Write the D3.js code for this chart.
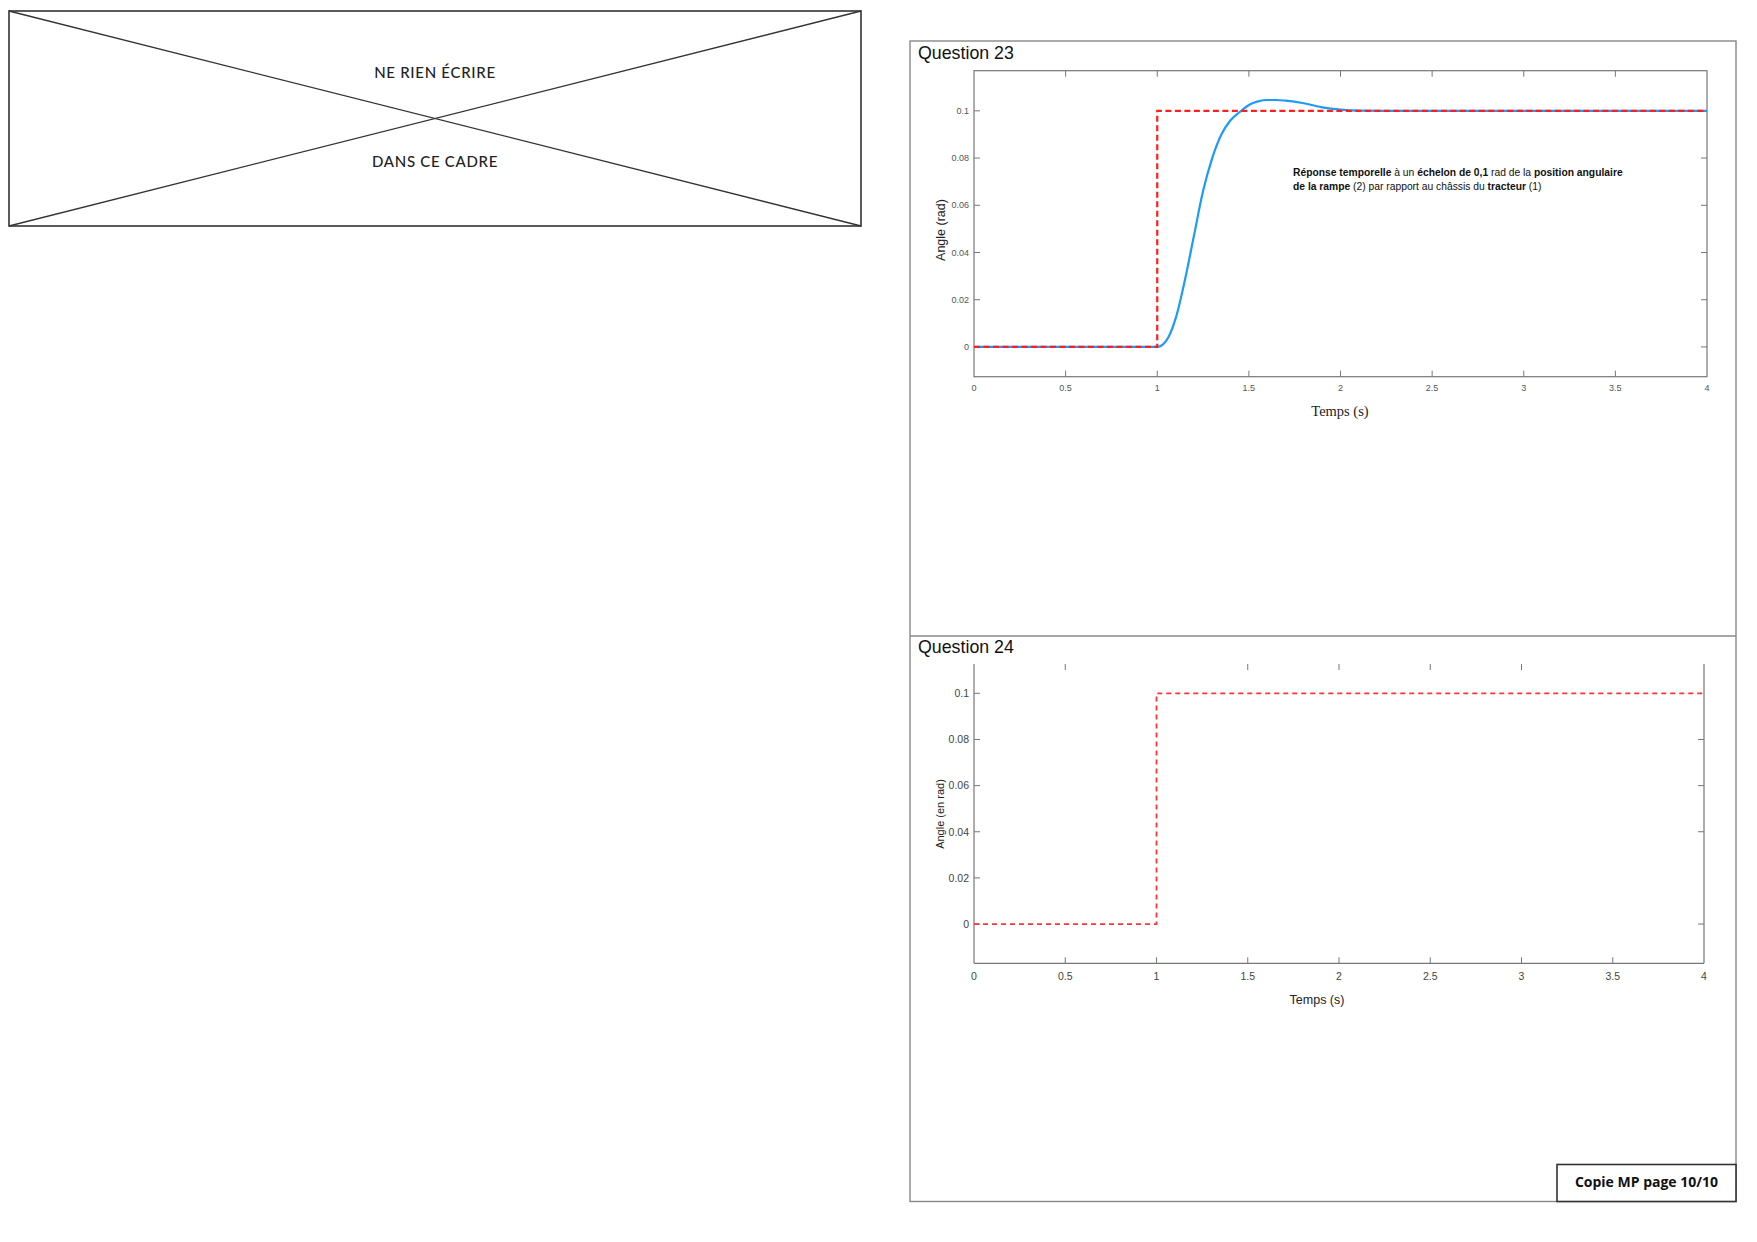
<!DOCTYPE html>
<html><head><meta charset="utf-8">
<script src="https://cdn.jsdelivr.net/npm/d3@7"></script>
<style>
html,body{margin:0;padding:0;background:#fff;}
svg{display:block;}
</style></head>
<body>
<svg id="page" width="1757" height="1242"></svg>
<script>
// ---------- DATA ----------
const q23Title = "Question 23";
const q24Title = "Question 24";
const xTicks = [0, 0.5, 1, 1.5, 2, 2.5, 3, 3.5, 4];
const xTickLabels = ["0", "0.5", "1", "1.5", "2", "2.5", "3", "3.5", "4"];
const yTicks = [0, 0.02, 0.04, 0.06, 0.08, 0.1];
const yTickLabels = ["0", "0.02", "0.04", "0.06", "0.08", "0.1"];
// consigne : échelon de 0,1 rad à t = 1 s
const stepT = [0, 1, 1, 4];
const stepV = [0, 0, 0.1, 0.1];
// réponse
const respT = [0, 1, 1.03, 1.06, 1.1, 1.15, 1.2, 1.25, 1.3, 1.35, 1.4, 1.45, 1.5, 1.55, 1.6, 1.65, 1.7, 1.8, 1.9, 2.0, 2.1, 2.3, 2.6, 3, 3.5, 4];
const respV = [0, 0, 0.001, 0.004, 0.012, 0.028, 0.047, 0.066, 0.080, 0.090, 0.096, 0.0995, 0.1025, 0.104, 0.1046, 0.1046, 0.1043, 0.1032, 0.1015, 0.1005, 0.1001, 0.1, 0.1, 0.1, 0.1, 0.1];
// Q24 : graduations partielles visibles
const q24TopTicks = [0.5, 1.5, 2, 2.5, 3];
const q24RightTicks = [0, 0.04, 0.06, 0.08];
const annotLine1 = [["Réponse temporelle ", true], ["à un ", false], ["échelon de 0,1 ", true], ["rad de la ", false], ["position angulaire", true]];
const annotLine2 = [["de la rampe ", true], ["(2) par rapport au châssis du ", false], ["tracteur ", true], ["(1)", false]];

const svg = d3.select("#page");

// ---------- Cadre "NE RIEN ÉCRIRE" ----------
const bx0 = 9, by0 = 11, bx1 = 861, by1 = 226;
const g0 = svg.append("g");
g0.append("rect").attr("x", bx0).attr("y", by0).attr("width", bx1 - bx0).attr("height", by1 - by0)
  .attr("fill", "none").attr("stroke", "#333").attr("stroke-width", 1.6);
g0.append("line").attr("x1", bx0).attr("y1", by0).attr("x2", bx1).attr("y2", by1).attr("stroke", "#333").attr("stroke-width", 1.3);
g0.append("line").attr("x1", bx0).attr("y1", by1).attr("x2", bx1).attr("y2", by0).attr("stroke", "#333").attr("stroke-width", 1.3);
g0.append("text").attr("x", 435).attr("y", 78).attr("text-anchor", "middle")
  .attr("font-family", "Lato, 'Open Sans', sans-serif").attr("font-size", 15).attr("letter-spacing", 0.7).attr("font-weight", 500).attr("fill", "#222").text("NE RIEN ÉCRIRE");
g0.append("text").attr("x", 435).attr("y", 167).attr("text-anchor", "middle")
  .attr("font-family", "Lato, 'Open Sans', sans-serif").attr("font-size", 15).attr("letter-spacing", 0.7).attr("font-weight", 500).attr("fill", "#222").text("DANS CE CADRE");

// ---------- Cadre extérieur droite ----------
const fx0 = 910, fy0 = 41, fx1 = 1736, fy1 = 1201.5;
svg.append("rect").attr("x", fx0).attr("y", fy0).attr("width", fx1 - fx0).attr("height", fy1 - fy0)
  .attr("fill", "none").attr("stroke", "#888").attr("stroke-width", 1.4);
svg.append("line").attr("x1", fx0).attr("x2", fx1).attr("y1", 636).attr("y2", 636).attr("stroke", "#888").attr("stroke-width", 1.4);

svg.append("text").attr("x", 918).attr("y", 59).attr("font-family", "'Liberation Sans', Arial, sans-serif")
  .attr("font-size", 17.8).attr("fill", "#111").text(q23Title);
svg.append("text").attr("x", 918).attr("y", 653).attr("font-family", "'Liberation Sans', Arial, sans-serif")
  .attr("font-size", 17.8).attr("fill", "#111").text(q24Title);

// ---------- Graphe Q23 ----------
{
  const x = d3.scaleLinear().domain([0, 4]).range([974, 1707]);
  const y = d3.scaleLinear().domain([-0.0126, 0.117]).range([376.7, 70.7]);
  const g = svg.append("g");
  const axCol = "#777";
  g.append("rect").attr("x", x(0)).attr("y", y(0.117)).attr("width", x(4) - x(0)).attr("height", y(-0.0126) - y(0.117))
    .attr("fill", "none").attr("stroke", axCol).attr("stroke-width", 1.2);
  const tl = 6;
  xTicks.slice(1, -1).forEach(t => {
    g.append("line").attr("x1", x(t)).attr("x2", x(t)).attr("y1", y(-0.0126)).attr("y2", y(-0.0126) - tl).attr("stroke", axCol);
    g.append("line").attr("x1", x(t)).attr("x2", x(t)).attr("y1", y(0.117)).attr("y2", y(0.117) + tl).attr("stroke", axCol);
  });
  yTicks.forEach(v => {
    g.append("line").attr("x1", x(0)).attr("x2", x(0) + tl).attr("y1", y(v)).attr("y2", y(v)).attr("stroke", axCol);
    g.append("line").attr("x1", x(4)).attr("x2", x(4) - tl).attr("y1", y(v)).attr("y2", y(v)).attr("stroke", axCol);
  });
  g.selectAll(".xl").data(xTicks).enter().append("text")
    .attr("x", d => x(d)).attr("y", 391).attr("text-anchor", "middle")
    .attr("font-family", "'Liberation Sans', Arial, sans-serif").attr("font-size", 9).attr("fill", "#555")
    .text((d, i) => xTickLabels[i]);
  g.selectAll(".yl").data(yTicks).enter().append("text")
    .attr("x", 969).attr("y", d => y(d) + 3).attr("text-anchor", "end")
    .attr("font-family", "'Liberation Sans', Arial, sans-serif").attr("font-size", 9).attr("fill", "#555")
    .text((d, i) => yTickLabels[i]);
  g.append("text").attr("x", 1340).attr("y", 416).attr("text-anchor", "middle")
    .attr("font-family", "'Liberation Serif', 'Times New Roman', serif").attr("font-size", 14.5).attr("fill", "#222").text("Temps (s)");
  g.append("text").attr("transform", "translate(945,230) rotate(-90)").attr("text-anchor", "middle")
    .attr("font-family", "'Liberation Sans', Arial, sans-serif").attr("font-size", 12.5).attr("fill", "#222").text("Angle (rad)");
  const resp = respT.map((t, i) => [t, respV[i]]);
  g.append("path").datum(resp)
    .attr("d", d3.line().x(d => x(d[0])).y(d => y(d[1])).curve(d3.curveMonotoneX))
    .attr("fill", "none").attr("stroke", "#1E9BF5").attr("stroke-width", 2.2);
  const step = stepT.map((t, i) => [t, stepV[i]]);
  g.append("path").datum(step)
    .attr("d", d3.line().x(d => x(d[0])).y(d => y(d[1])))
    .attr("fill", "none").attr("stroke", "#FF1E1E").attr("stroke-width", 2.2).attr("stroke-dasharray", "6,3.5");
  const aFont = "'Liberation Sans', Arial, sans-serif";
  [[annotLine1, 176], [annotLine2, 190]].forEach(([parts, yy]) => {
    const t = g.append("text").attr("x", 1293).attr("y", yy).attr("font-family", aFont).attr("font-size", 10.3).attr("fill", "#111");
    parts.forEach(p => t.append("tspan").attr("font-weight", p[1] ? "bold" : "normal").text(p[0]));
  });
}

// ---------- Graphe Q24 ----------
{
  const x = d3.scaleLinear().domain([0, 4]).range([974, 1704]);
  const y = d3.scaleLinear().domain([-0.017, 0.1127]).range([963.3, 664]);
  const g = svg.append("g");
  const axCol = "#777";
  g.append("line").attr("x1", x(0)).attr("x2", x(0)).attr("y1", y(0.1127)).attr("y2", y(-0.017)).attr("stroke", axCol).attr("stroke-width", 1.2);
  g.append("line").attr("x1", x(0)).attr("x2", x(4)).attr("y1", y(-0.017)).attr("y2", y(-0.017)).attr("stroke", axCol).attr("stroke-width", 1.2);
  g.append("line").attr("x1", x(4)).attr("x2", x(4)).attr("y1", y(0.1127)).attr("y2", y(-0.017)).attr("stroke", axCol).attr("stroke-width", 1.2);
  const tl = 6;
  xTicks.slice(1, -1).forEach(t => {
    g.append("line").attr("x1", x(t)).attr("x2", x(t)).attr("y1", y(-0.017)).attr("y2", y(-0.017) - tl).attr("stroke", axCol);
  });
  q24TopTicks.forEach(t => {
    g.append("line").attr("x1", x(t)).attr("x2", x(t)).attr("y1", y(0.1127)).attr("y2", y(0.1127) + tl).attr("stroke", axCol);
  });
  yTicks.forEach(v => {
    g.append("line").attr("x1", x(0)).attr("x2", x(0) + tl).attr("y1", y(v)).attr("y2", y(v)).attr("stroke", axCol);
  });
  q24RightTicks.forEach(v => {
    g.append("line").attr("x1", x(4)).attr("x2", x(4) - tl).attr("y1", y(v)).attr("y2", y(v)).attr("stroke", axCol);
  });
  g.selectAll(".xl").data(xTicks).enter().append("text")
    .attr("x", d => x(d)).attr("y", 979.5).attr("text-anchor", "middle")
    .attr("font-family", "'Liberation Sans', Arial, sans-serif").attr("font-size", 10.5).attr("fill", "#444")
    .text((d, i) => xTickLabels[i]);
  g.selectAll(".yl").data(yTicks).enter().append("text")
    .attr("x", 969).attr("y", d => y(d) + 3.8).attr("text-anchor", "end")
    .attr("font-family", "'Liberation Sans', Arial, sans-serif").attr("font-size", 10.5).attr("fill", "#444")
    .text((d, i) => yTickLabels[i]);
  g.append("text").attr("x", 1317).attr("y", 1003.5).attr("text-anchor", "middle")
    .attr("font-family", "'Liberation Sans', Arial, sans-serif").attr("font-size", 12.5).attr("fill", "#222").text("Temps (s)");
  g.append("text").attr("transform", "translate(944,814) rotate(-90)").attr("text-anchor", "middle")
    .attr("font-family", "'Liberation Sans', Arial, sans-serif").attr("font-size", 11).attr("fill", "#222").text("Angle (en rad)");
  const step = stepT.map((t, i) => [t, stepV[i]]);
  g.append("path").datum(step)
    .attr("d", d3.line().x(d => x(d[0])).y(d => y(d[1])))
    .attr("fill", "none").attr("stroke", "#FF3535").attr("stroke-width", 1.8).attr("stroke-dasharray", "5,4");
}

// ---------- Pied de page ----------
svg.append("rect").attr("x", 1557).attr("y", 1164.5).attr("width", 179).attr("height", 37)
  .attr("fill", "#fff").attr("stroke", "#333").attr("stroke-width", 1.6);
svg.append("text").attr("x", 1646.5).attr("y", 1187).attr("text-anchor", "middle")
  .attr("font-family", "'Open Sans', 'Liberation Sans', sans-serif").attr("font-weight", "bold").attr("font-size", 14).attr("fill", "#111")
  .text("Copie MP page 10/10");
</script>
</body></html>
